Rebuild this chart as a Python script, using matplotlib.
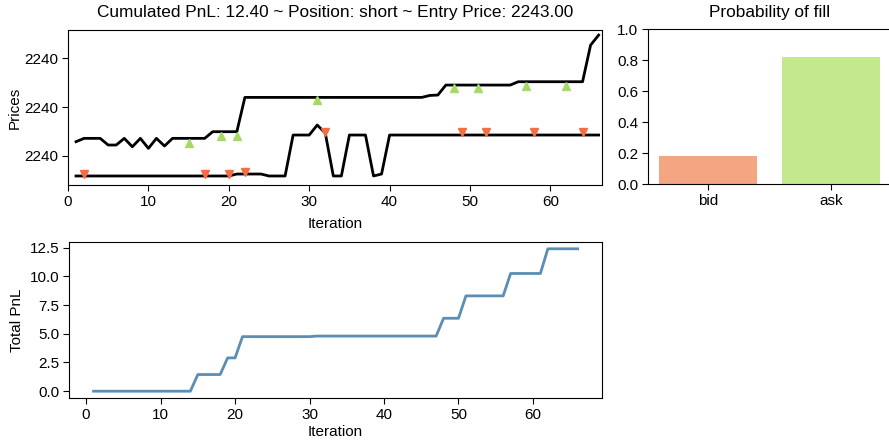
import matplotlib
matplotlib.use("Agg")
import matplotlib.pyplot as plt
from matplotlib.ticker import FuncFormatter

plt.rcParams['font.family'] = ['Liberation Sans', 'DejaVu Sans']
plt.rcParams['font.size'] = 11

# ---- data ----
iterations = list(range(1, 67))

ask_quote = ([2239.823, 2239.840, 2239.840, 2239.840, 2239.806, 2239.806,
              2239.840, 2239.797, 2239.840, 2239.789, 2239.840, 2239.801]
             + [2239.840] * 5 + [2239.874] * 4 + [2240.049] * 23
             + [2240.059, 2240.061] + [2240.112] * 9 + [2240.129] * 9
             + [2240.316, 2240.367])

bid_quote = ([2239.648] * 20 + [2239.658] * 4 + [2239.648] * 3
             + [2239.857] * 3 + [2239.908, 2239.867] + [2239.648] * 2
             + [2239.857] * 3 + [2239.648, 2239.658] + [2239.857] * 27)

ask_fill_x = [15, 19, 21, 31, 48, 51, 57, 62]
ask_fill_y = [2239.815, 2239.854, 2239.854, 2240.036, 2240.095, 2240.095,
              2240.107, 2240.107]

bid_fill_x = [2, 17, 20, 22, 32, 49, 52, 58, 64]
bid_fill_y = [2239.658, 2239.658, 2239.658, 2239.670, 2239.874, 2239.874,
              2239.874, 2239.874, 2239.874]

total_pnl = ([0.0] * 14 + [1.45] * 4 + [2.9] * 2 + [4.75] * 10 + [4.8] * 17
             + [6.35] * 3 + [8.3] * 6 + [10.25] * 5 + [12.4] * 5)

fill_sides = ['bid', 'ask']
fill_prob = [0.18, 0.82]

price_ticks = [2239.75, 2240.0, 2240.25]

title_text = "Cumulated PnL: 12.40 ~ Position: short ~ Entry Price: 2243.00"

# ---- figure ----
fig = plt.figure(figsize=(8.89, 4.41), dpi=100)
ax_price = fig.add_axes([0.0765, 0.5805, 0.6005, 0.3515])
ax_prob = fig.add_axes([0.729, 0.582, 0.273, 0.3516])
ax_pnl = fig.add_axes([0.078, 0.0968, 0.599, 0.3552])

# prices with fills
ax_price.plot(iterations, ask_quote, color='black', lw=2.0)
ax_price.plot(iterations, bid_quote, color='black', lw=2.0)
ax_price.plot(ask_fill_x, ask_fill_y, linestyle='none', marker='^',
              color='#a6d96a', markersize=6)
ax_price.plot(bid_fill_x, bid_fill_y, linestyle='none', marker='v',
              color='#f46d43', markersize=6)
ax_price.set_xlim(0, 66.4)
ax_price.set_ylim(2239.602, 2240.393)
ax_price.set_yticks(price_ticks)
ax_price.yaxis.set_major_formatter(FuncFormatter(lambda v, p: f"{v:.0f}"))
ax_price.set_xticks([0, 10, 20, 30, 40, 50, 60])
ax_price.set_xlabel("Iteration", labelpad=6)
ax_price.set_ylabel("Prices", labelpad=2)
ax_price.set_title(title_text, fontsize=12.4, pad=9)

# fill probability
ax_prob.bar(fill_sides, fill_prob, color=['#f4a582', '#c3e88d'], width=0.8)
ax_prob.set_ylim(0, 1.0)
ax_prob.set_xlim(-0.49, 1.49)
ax_prob.set_yticks([0.0, 0.2, 0.4, 0.6, 0.8, 1.0])
ax_prob.set_title("Probability of fill", fontsize=12.4, pad=9)

# cumulative PnL
ax_pnl.plot(iterations, total_pnl, color='#5b8db5', lw=2.0)
ax_pnl.set_xticks([0, 10, 20, 30, 40, 50, 60])
ax_pnl.set_yticks([0.0, 2.5, 5.0, 7.5, 10.0, 12.5])
ax_pnl.set_xlabel("Iteration", labelpad=2)
ax_pnl.set_ylabel("Total PnL", labelpad=4)

for ax in (ax_price, ax_prob, ax_pnl):
    ax.tick_params(direction='out', length=4, labelsize=11, pad=3)

fig.savefig("out.png", dpi=100)
